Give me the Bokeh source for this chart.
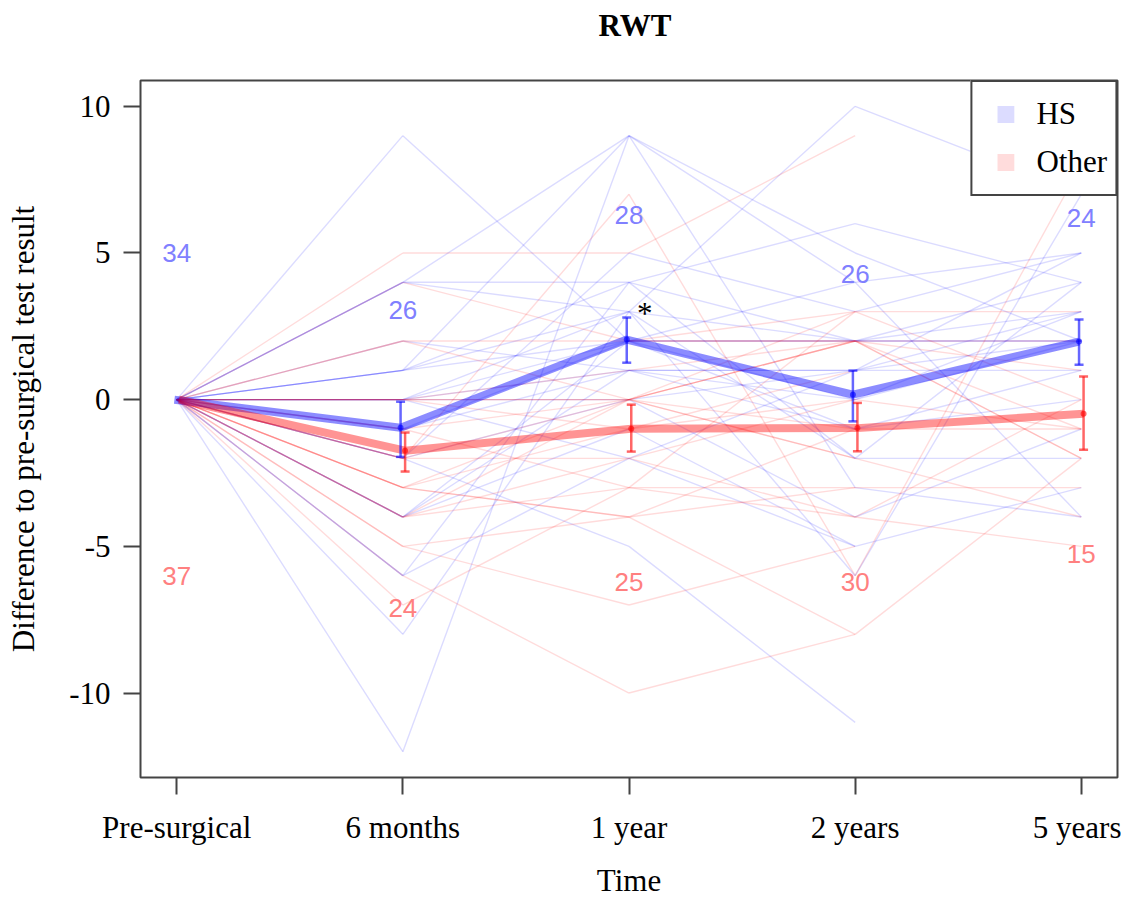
import math
from bokeh.plotting import figure
from bokeh.models import Range1d, FixedTicker, Legend, LegendItem, Title
from bokeh.core.properties import value
from bokeh.embed import file_html
from bokeh.resources import INLINE

N = float("nan")

# ---------------- data ----------------
time_labels = ["Pre-surgical", "6 months", "1 year", "2 years", "5 years"]
time_pos = [1, 2, 3, 4, 5]

# individual trajectories (difference to pre-surgical), NaN = missing
hs_patients = [
    [0, 9, 2, -1, 1],
    [0, 4, 9, 5, 2],
    [0, 4, 3, 10, 7],
    [0, 4, 4, 2, 3],
    [0, 2, 1, 1, 5],
    [0, 1, 9, -3, -4],
    [0, 1, 4, 6, 4],
    [0, 1, 2, 4, 5],
    [0, 1, 3, 2, 2],
    [0, 0, 2, 0, 2],
    [0, 0, 1, 1, 3],
    [0, 0, 3, -2, -2],
    [0, 0, -2, -5, -3],
    [0, 0, 0, 1, 1],
    [0, -1, 2, 2, 4],
    [0, -1, 1, -1, 0],
    [0, -2, 5, 3, 5],
    [0, -2, -5, -11, N],
    [0, -2, 0, -4, -1],
    [0, -4, 2, 2, 2],
    [0, -4, 1, 0, 3],
    [0, -4, -1, -5, N],
    [0, -6, -2, 1, 2],
    [0, -6, 4, -2, 4],
    [0, -8, 3, -6, 7],
    [0, -12, 9, 4, -4],
    [0, N, 2, N, N],
    [0, N, -5, N, N],
    [0, N, N, N, N],
    [0, N, N, N, N],
    [0, N, N, N, N],
    [0, N, N, N, N],
    [0, N, N, N, N],
    [0, N, N, N, N],
]

other_patients = [
    [0, 5, 5, 9, N],
    [0, 4, 2, 3, 3],
    [0, 2, 2, 2, 1],
    [0, 2, 0, 3, 0],
    [0, 0, 1, 2, N],
    [0, 0, 0, -1, -1],
    [0, 0, -1, 0, N],
    [0, 0, 0, 2, 2],
    [0, -1, -3, -3, -3],
    [0, -1, 0, -2, N],
    [0, -2, 7, -6, 8],
    [0, -2, 0, 2, -1],
    [0, -2, -2, -4, -5],
    [0, -3, -4, -3, N],
    [0, -3, -1, 1, N],
    [0, -3, 0, 2, -2],
    [0, -3, -4, -1, N],
    [0, -4, -2, 0, -1],
    [0, -4, -3, 3, N],
    [0, -4, 0, -2, -4],
    [0, -5, -7, -5, N],
    [0, -5, -4, -8, N],
    [0, -6, -10, -8, -2],
    [0, -7, -3, -4, 0],
    [0, N, 2, 2, -2],
    [0, N, N, 1, N],
    [0, N, N, -1, N],
    [0, N, N, -3, N],
    [0, N, N, -4, N],
    [0, N, N, -6, N],
    [0, N, N, N, N],
    [0, N, N, N, N],
    [0, N, N, N, N],
    [0, N, N, N, N],
    [0, N, N, N, N],
    [0, N, N, N, N],
    [0, N, N, N, N],
]

# group means and standard-error bars
hs_mean = [0, -0.96, 2.05, 0.17, 1.98]
hs_lo = [0, -1.95, 1.26, -0.74, 1.19]
hs_hi = [0, -0.07, 2.80, 0.99, 2.73]
other_mean = [0, -1.74, -0.99, -0.97, -0.48]
other_lo = [0, -2.45, -1.77, -1.76, -1.71]
other_hi = [0, -1.12, -0.17, -0.11, 0.79]

# number of patients per time point
hs_n = [34, 26, 28, 26, 24]
other_n = [37, 24, 25, 30, 15]
hs_n_y = [5.0, 3.07, 6.3, 4.27, 6.2]
other_n_y = [-6.0, -7.1, -6.2, -6.2, -5.27]

# ---------------- figure ----------------
SERIF = "Liberation Serif"
SANS = "Liberation Sans"
AX = "#444444"

p = figure(width=1121, height=900,
           x_range=Range1d(0.84, 5.16), y_range=Range1d(-12.88, 10.88),
           output_backend="svg", toolbar_location=None,
           min_border_left=140, min_border_right=4,
           min_border_top=80, min_border_bottom=123)
p.xgrid.visible = False
p.ygrid.visible = False
p.outline_line_color = AX
p.outline_line_width = 2
p.outline_line_alpha = 1
p.background_fill_color = "white"
p.border_fill_color = "white"

p.title.text = "RWT"
p.title.align = "left"
p.title.text_font = SERIF
p.title.text_font_size = "31px"
p.title.text_font_style = "bold"
p.title.text_color = "black"
p.title.standoff = 11
p.title.offset = 458
# invisible spacer panel between the frame and the title
p.add_layout(Title(text=" ", text_font_size="1px", standoff=29), "above")

xa = p.xaxis[0]
xa.ticker = FixedTicker(ticks=time_pos)
xa.major_label_overrides = {t: l for t, l in zip(time_pos, time_labels)}
xa.axis_label = "Time"
ya = p.yaxis[0]
ya.ticker = FixedTicker(ticks=[-10, -5, 0, 5, 10])
ya.major_label_overrides = {v: str(v) for v in [-10, -5, 0, 5, 10]}
ya.axis_label = "Difference to pre-surgical test result"
for ax in (xa, ya):
    ax.axis_line_color = None
    ax.major_tick_out = 17
    ax.major_tick_in = 0
    ax.major_tick_line_color = AX
    ax.major_tick_line_width = 2
    ax.minor_tick_line_color = None
    ax.major_label_text_font = SERIF
    ax.major_label_text_font_size = "31px"
    ax.major_label_text_color = "black"
    ax.axis_label_text_font = SERIF
    ax.axis_label_text_font_size = "31px"
    ax.axis_label_text_font_style = "normal"
    ax.axis_label_text_color = "black"
xa.major_label_standoff = 15
xa.axis_label_standoff = 15
ya.major_label_standoff = 13
ya.axis_label_standoff = 25

# ---------------- individual lines ----------------
def segments(rows):
    x0, y0, x1, y1 = [], [], [], []
    for row in rows:
        for i in range(len(row) - 1):
            if not (math.isnan(row[i]) or math.isnan(row[i + 1])):
                x0.append(time_pos[i]); y0.append(row[i])
                x1.append(time_pos[i + 1]); y1.append(row[i + 1])
    return x0, y0, x1, y1

hx0, hy0, hx1, hy1 = segments(hs_patients)
p.segment(x0=hx0, y0=hy0, x1=hx1, y1=hy1, line_color="#0000ff", line_alpha=0.14, line_width=1.4)
ox0, oy0, ox1, oy1 = segments(other_patients)
p.segment(x0=ox0, y0=oy0, x1=ox1, y1=oy1, line_color="#ff0000", line_alpha=0.14, line_width=1.4)

# ---------------- means and error bars ----------------
hs_x = [t - 0.01 for t in time_pos]
ot_x = [t + 0.01 for t in time_pos]

p.line(hs_x, hs_mean, line_color="#0000ff", line_alpha=0.45, line_width=8)
p.line(ot_x, other_mean, line_color="#ff0000", line_alpha=0.42, line_width=8)

for xs, lo, hi, mean, col in ((hs_x, hs_lo, hs_hi, hs_mean, "#0000ff"),
                              (ot_x, other_lo, other_hi, other_mean, "#ff0000")):
    p.segment(x0=xs[1:], y0=lo[1:], x1=xs[1:], y1=hi[1:], line_color=col, line_alpha=0.6, line_width=2.5)
    p.scatter(x=xs[1:] + xs[1:], y=lo[1:] + hi[1:], marker="dash", size=9,
              line_color=col, line_alpha=0.6, line_width=2.5)
    p.scatter(x=xs[1:], y=mean[1:], marker="circle", size=6, fill_color=col, fill_alpha=0.6,
              line_color=None)

# ---------------- counts ----------------
p.text(x=time_pos, y=hs_n_y, text=[str(n) for n in hs_n], text_font=value(SANS),
       text_font_size="26px", text_color="#8080ff", text_align="center", text_baseline="middle")
p.text(x=time_pos, y=other_n_y, text=[str(n) for n in other_n], text_font=value(SANS),
       text_font_size="26px", text_color="#ff8080", text_align="center", text_baseline="middle")

# significance marker at 1 year
p.text(x=[3.07], y=[2.95], text=["*"], text_font=value(SERIF), text_font_size="31px",
       text_color="black", text_align="center", text_baseline="middle")

# ---------------- legend ----------------
r_hs = p.scatter(x=[N], y=[N], marker="square", size=17, fill_color="#dcdcff", line_color=None)
r_ot = p.scatter(x=[N], y=[N], marker="square", size=17, fill_color="#ffdcdc", line_color=None)
legend = Legend(items=[LegendItem(label="HS", renderers=[r_hs]),
                       LegendItem(label="Other", renderers=[r_ot])],
                location="top_right", margin=0, padding=8, spacing=0,
                glyph_width=50, glyph_height=42, label_height=48, label_standoff=6,
                label_text_font=SERIF, label_text_font_size="31px", label_text_color="black",
                border_line_color=AX, border_line_width=2, border_line_alpha=1,
                background_fill_color="white", background_fill_alpha=1)
p.add_layout(legend)

open("out.html", "w").write(file_html(p, INLINE))
